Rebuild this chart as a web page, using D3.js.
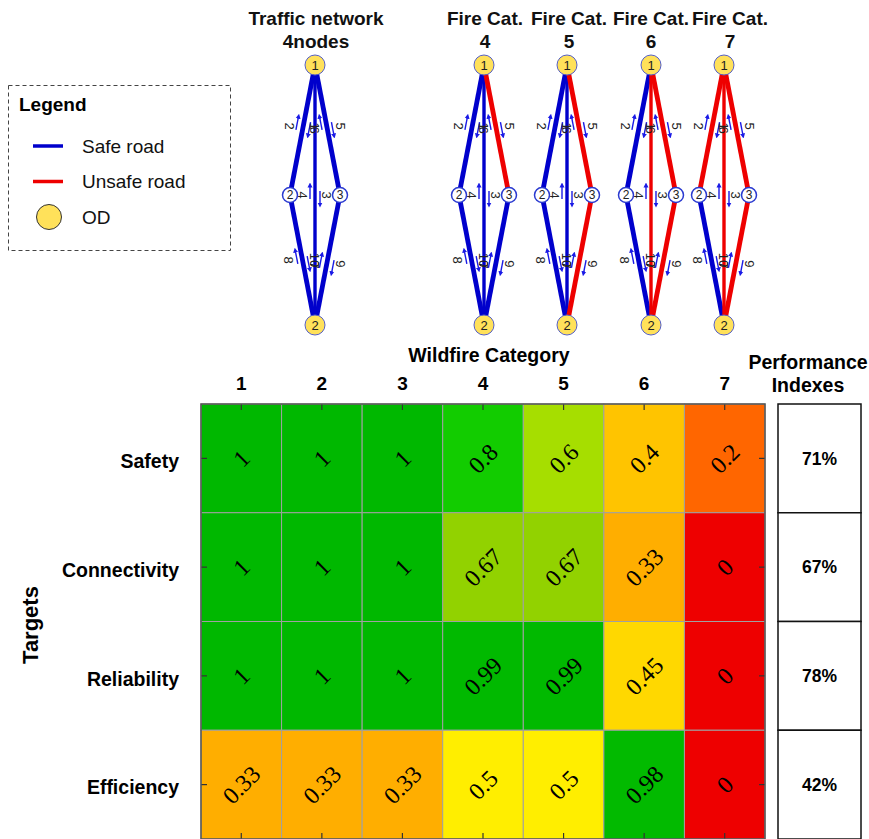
<!DOCTYPE html>
<html><head><meta charset="utf-8">
<script src="https://cdn.jsdelivr.net/npm/d3@7"></script>
<style>body{margin:0;background:#fff}svg{display:block}</style>
</head><body><svg id="c" width="869" height="839"></svg>
<script>
// ---------------- DATA ----------------
const categories = ["1","2","3","4","5","6","7"];
const targets = ["Safety","Connectivity","Reliability","Efficiency"];
const safety       = [1,1,1,0.8,0.6,0.4,0.2];
const connectivity = [1,1,1,0.67,0.67,0.33,0];
const reliability  = [1,1,1,0.99,0.99,0.45,0];
const efficiency   = [0.33,0.33,0.33,0.5,0.5,0.98,0];
const performance  = ["71%","67%","78%","42%"];
const colorStops  = [0,0.2,0.33,0.4,0.45,0.5,0.6,0.67,0.8,1];
const colorValues = ["#ee0000","#ff6600","#ffae00","#ffc400","#ffd800","#ffee00","#a6de00","#92d200","#12cc00","#00b800"];

// networks
const networkTitles = [["Traffic network","4nodes"],["Fire Cat.","4"],["Fire Cat.","5"],["Fire Cat.","6"],["Fire Cat.","7"]];
const nodes = [{id:"t",label:"1",od:true},{id:"l",label:"2",od:false},{id:"r",label:"3",od:false},{id:"b",label:"2",od:true}];
const roads = [{a:"t",b:"l"},{a:"t",b:"r"},{a:"t",b:"b"},{a:"l",b:"b"},{a:"r",b:"b"}];
const unsafeRoads = [[],[1],[1,4],[1,2,4],[0,1,2,4]];
const linkLabels = [
  {road:0,text:"2",t:0.47,side:-1,arrows:true},
  {road:1,text:"5",t:0.47,side:1,arrows:true},
  {road:2,text:"6",t:0.25,side:0,arrows:false},
  {road:2,text:"1",t:0.235,side:0,arrows:false},
  {road:2,text:"4",t:0.5,side:-1,arrows:true},
  {road:2,text:"3",t:0.5,side:1,arrows:true},
  {road:2,text:"10",t:0.75,side:0,arrows:false},
  {road:2,text:"7",t:0.77,side:0,arrows:false},
  {road:3,text:"8",t:0.5,side:-1,arrows:true},
  {road:4,text:"9",t:0.53,side:1,arrows:true}
];
const legendItems = [{type:"line",color:"#0000cc",text:"Safe road"},{type:"line",color:"#ee0000",text:"Unsafe road"},{type:"od",text:"OD"}];

// ---------------- DRAW ----------------
const svg = d3.select("#c");
const SANS = "'Liberation Sans', Arial, Helvetica, sans-serif";
const SERIF = "'Liberation Serif', 'Times New Roman', serif";
const values = [safety, connectivity, reliability, efficiency];

// heatmap scales
const x = d3.scaleBand().domain(categories).range([201, 765]);
const y = d3.scaleBand().domain(targets).range([404, 839]);
const color = d3.scaleLinear().domain(colorStops).range(colorValues);

const cells = [];
targets.forEach((t,i)=>categories.forEach((c,j)=>cells.push({t,c,v:values[i][j]})));

const hm = svg.append("g");
hm.selectAll("rect.cell").data(cells).join("rect").attr("class","cell")
  .attr("x",d=>x(d.c)).attr("y",d=>y(d.t)).attr("width",x.bandwidth()).attr("height",y.bandwidth())
  .attr("fill",d=>color(d.v)).attr("stroke","#a0a0a0").attr("stroke-width",1);
hm.selectAll("text.val").data(cells).join("text").attr("class","val")
  .attr("transform",d=>`translate(${x(d.c)+x.bandwidth()/2},${y(d.t)+y.bandwidth()/2}) rotate(-45)`)
  .attr("text-anchor","middle").attr("dy","0.35em")
  .attr("font-family",SERIF).attr("font-size",24).attr("fill","#000")
  .text(d=>d.v);

// axes (ticks inside)
const axTop = d3.axisBottom(x).tickSize(6).tickFormat("");
const axBot = d3.axisTop(x).tickSize(6).tickFormat("");
const axL = d3.axisRight(y).tickSize(6).tickFormat("");
const axR = d3.axisLeft(y).tickSize(6).tickFormat("");
[[axTop,`translate(0,404)`],[axBot,`translate(0,839)`],[axL,`translate(201,0)`],[axR,`translate(765,0)`]].forEach(([a,tr])=>{
  const g = hm.append("g").attr("transform",tr).call(a);
  g.select(".domain").remove();
  g.selectAll("line").attr("stroke","#333").attr("stroke-width",1.2);
});
hm.append("rect").attr("x",201).attr("y",404).attr("width",564).attr("height",435)
  .attr("fill","none").attr("stroke","#555").attr("stroke-width",1.5);

// column labels
hm.selectAll("text.col").data(categories).join("text").attr("class","col")
  .attr("x",d=>x(d)+x.bandwidth()/2).attr("y",390).attr("text-anchor","middle")
  .attr("font-family",SANS).attr("font-weight","bold").attr("font-size",19).text(d=>d);
hm.append("text").attr("x",489).attr("y",362).attr("text-anchor","middle")
  .attr("font-family",SANS).attr("font-weight","bold").attr("font-size",19.5).text("Wildfire Category");
// row labels
hm.selectAll("text.row").data(targets).join("text").attr("class","row")
  .attr("x",179).attr("y",d=>y(d)+y.bandwidth()/2+3).attr("dy","0.35em").attr("text-anchor","end")
  .attr("font-family",SANS).attr("font-weight","bold").attr("font-size",19.5).text(d=>d);
hm.append("text").attr("transform","translate(38,625) rotate(-90)").attr("text-anchor","middle")
  .attr("font-family",SANS).attr("font-weight","bold").attr("font-size",22).text("Targets");

// performance column
const px = d3.scaleBand().domain(["p"]).range([778, 861]);
const pg = svg.append("g");
pg.selectAll("rect").data(targets).join("rect")
  .attr("x",px("p")).attr("y",d=>y(d)).attr("width",px.bandwidth()).attr("height",y.bandwidth())
  .attr("fill","#fff").attr("stroke","#111").attr("stroke-width",1.5);
pg.selectAll("text.pv").data(targets).join("text").attr("class","pv")
  .attr("x",px("p")+px.bandwidth()/2).attr("y",d=>y(d)+y.bandwidth()/2).attr("dy","0.35em")
  .attr("text-anchor","middle").attr("font-family",SANS).attr("font-weight","bold").attr("font-size",17.5)
  .text((d,i)=>performance[i]);
pg.append("text").attr("x",808).attr("y",369).attr("text-anchor","middle")
  .attr("font-family",SANS).attr("font-weight","bold").attr("font-size",19.5).text("Performance");
pg.append("text").attr("x",808).attr("y",392).attr("text-anchor","middle")
  .attr("font-family",SANS).attr("font-weight","bold").attr("font-size",19.5).text("Indexes");

// legend
const lg = svg.append("g");
lg.append("rect").attr("x",8.5).attr("y",85.5).attr("width",222).attr("height",165)
  .attr("fill","none").attr("stroke","#444").attr("stroke-width",1).attr("stroke-dasharray","4,3");
lg.append("text").attr("x",19).attr("y",111).attr("font-family",SANS).attr("font-weight","bold").attr("font-size",19).text("Legend");
const ly = d3.scalePoint().domain(legendItems.map(d=>d.text)).range([146,217]);
legendItems.forEach(d=>{
  if(d.type==="line") lg.append("line").attr("x1",33).attr("x2",63).attr("y1",ly(d.text)).attr("y2",ly(d.text)).attr("stroke",d.color).attr("stroke-width",3.5);
  else lg.append("circle").attr("cx",49).attr("cy",ly(d.text)).attr("r",12.5).attr("fill","#ffe15a").attr("stroke","#333").attr("stroke-width",1);
  lg.append("text").attr("x",82).attr("y",ly(d.text)).attr("dy","0.35em").attr("font-family",SANS).attr("font-size",19).attr("fill","#111").text(d.text);
});

// networks
const defs = svg.append("defs");
defs.append("marker").attr("id","ah").attr("viewBox","0 0 10 10").attr("refX",5).attr("refY",5)
  .attr("markerWidth",5).attr("markerHeight",6).attr("markerUnits","userSpaceOnUse").attr("orient","auto")
  .append("path").attr("d","M0,0L10,5L0,10Z").attr("fill","#1a1ae6");

const netX = d3.scaleOrdinal().domain(d3.range(5)).range([315, 484, 567, 651, 724]);
const titleX = d3.scaleOrdinal().domain(d3.range(5)).range([316, 485, 569, 651, 730]);
const nodeY = d3.scalePoint().domain(["t","m","b"]).range([65,325]);
const nodeDx = {t:0,l:-25,r:25,b:0};
const nodeRow = {t:"t",l:"m",r:"m",b:"b"};
function pos(id,cx){return [cx+nodeDx[id], nodeY(nodeRow[id])];}

networkTitles.forEach((title,k)=>{
  const cx = netX(k);
  const g = svg.append("g");
  title.forEach((line,li)=>g.append("text").attr("x",titleX(k)).attr("y",25+li*23).attr("text-anchor","middle")
    .attr("font-family",SANS).attr("font-weight","bold").attr("font-size",19).attr("fill","#111").text(line));
  const unsafe = unsafeRoads[k];
  const order = roads.map((r,i)=>i).sort((a,b)=>(unsafe.includes(a)?1:0)-(unsafe.includes(b)?1:0));
  order.forEach(i=>{
    const r = roads[i]; const [x1,y1]=pos(r.a,cx); const [x2,y2]=pos(r.b,cx);
    g.append("line").attr("x1",x1).attr("y1",y1).attr("x2",x2).attr("y2",y2)
      .attr("stroke",unsafe.includes(i)?"#ee0000":"#0000cc").attr("stroke-width",i===2?3.4:4.8);
  });
  linkLabels.forEach(L=>{
    const r = roads[L.road]; const [x1,y1]=pos(r.a,cx); const [x2,y2]=pos(r.b,cx);
    const len = Math.hypot(x2-x1,y2-y1); const ux=(x2-x1)/len, uy=(y2-y1)/len;
    const px0 = x1+(x2-x1)*L.t, py0 = y1+(y2-y1)*L.t;
    const off = L.side*(L.road===2?12:14);
    g.append("text").attr("transform",`translate(${px0+off},${py0}) rotate(90)`)
      .attr("text-anchor","middle").attr("dy","0.35em").attr("font-family",SANS).attr("font-size",13).attr("fill","#222").text(L.text);
    if(L.arrows){
      const dirs = L.road===2 ? [L.side<0?-1:1] : [-1,1];
      dirs.forEach(d=>{
        const ax = (L.road===2? px0 + L.side*5 : px0 + d*6);
        const ay = py0 + d*3;
        const h = 7;
        g.append("line")
          .attr("x1",ax - d*ux*h).attr("y1",ay - d*uy*h).attr("x2",ax + d*ux*h).attr("y2",ay + d*uy*h)
          .attr("stroke","#1a1ae6").attr("stroke-width",1.4).attr("marker-end","url(#ah)");
      });
    }
  });
  nodes.forEach(n=>{
    const [nx,ny]=pos(n.id,cx);
    g.append("circle").attr("cx",nx).attr("cy",ny).attr("r",n.od?10:7.5)
      .attr("fill",n.od?"#ffe15a":"#fff").attr("stroke",n.od?"#5560c8":"#2a3ad0").attr("stroke-width",n.od?1:1.5);
    g.append("text").attr("x",nx).attr("y",ny).attr("dy","0.36em").attr("text-anchor","middle")
      .attr("font-family",SANS).attr("font-size",n.od?13:12).attr("fill","#222").text(n.label);
  });
});
</script></body></html>
